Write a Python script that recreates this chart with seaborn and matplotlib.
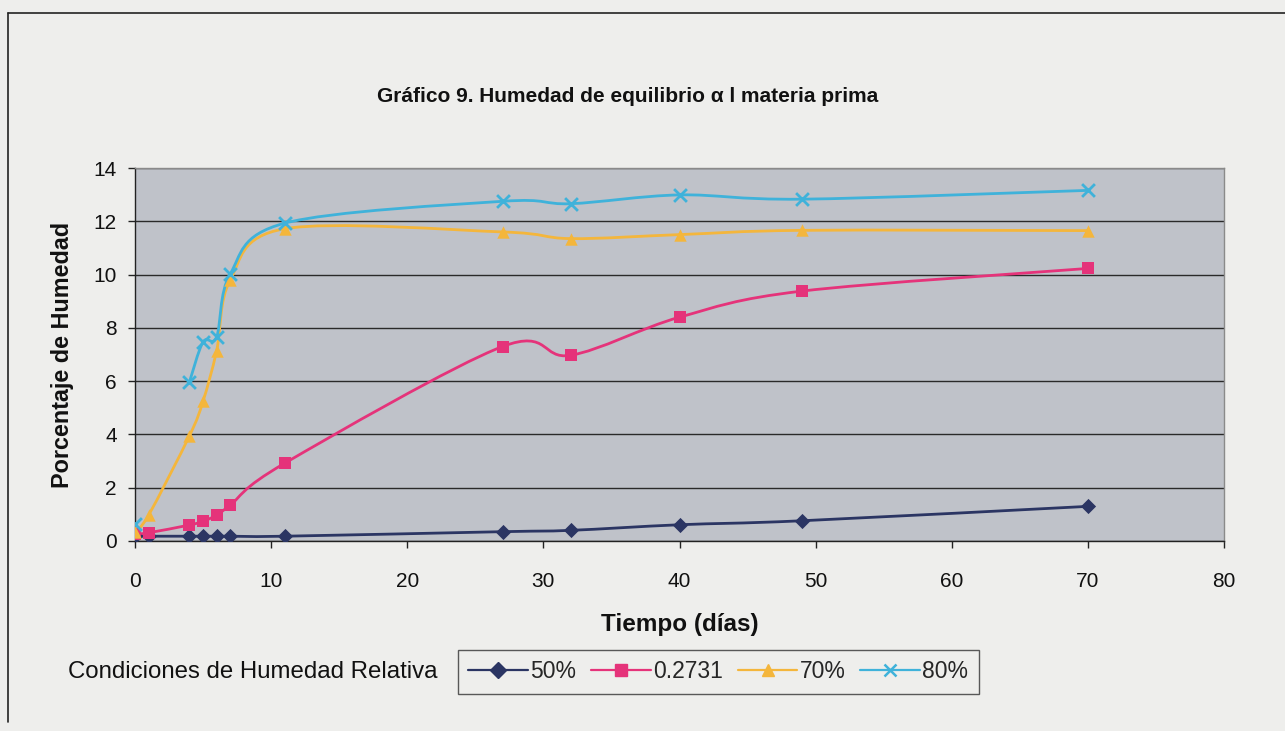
import numpy as np
import pandas as pd
import seaborn as sns
import matplotlib
matplotlib.use("Agg")
import matplotlib.pyplot as plt
from matplotlib.path import Path
from matplotlib.patches import PathPatch
from matplotlib.lines import Line2D

# Equilibrium moisture readings (percent) by day
dias = [0, 1, 4, 5, 6, 7, 11, 27, 32, 40, 49, 70]
hr_50 = [0.18, 0.18, 0.18, 0.18, 0.18, 0.18, 0.18, 0.35, 0.40, 0.61, 0.76, 1.30]
hr_2731 = [0.26, 0.31, 0.60, 0.74, 0.97, 1.35, 2.92, 7.30, 6.97, 8.40, 9.38, 10.23]
hr_70 = [0.35, 0.97, 3.95, 5.25, 7.15, 9.80, 11.72, 11.60, 11.35, 11.50, 11.66, 11.65]
hr_80 = [0.65, np.nan, 5.97, 7.47, 7.67, 10.03, 11.93, 12.75, 12.66, 12.99, 12.83, 13.16]

series_names = ["50%", "0.2731", "70%", "80%"]
series_values = [hr_50, hr_2731, hr_70, hr_80]
colors = ["#2b3563", "#e5337a", "#f4b63c", "#3fb2da"]
markers = ["D", "s", "^", "x"]
marker_sizes = [60, 75, 80, 85]

df = pd.DataFrame({"Tiempo": dias * 4,
                   "Humedad": sum(series_values, []),
                   "Serie": sum([[n] * len(dias) for n in series_names], [])})

sns.set_theme(style="white")
plt.rcParams["font.family"] = ["Liberation Sans", "DejaVu Sans"]

bg = "#eeeeec"
fig = plt.figure(figsize=(12.85, 7.31), dpi=100, facecolor=bg)
ax = fig.add_axes([135 / 1285, 1 - 541 / 731, (1224 - 135) / 1285, (541 - 168) / 731])
ax.set_facecolor("#bfc2c9")


def smooth_path(xs, ys):
    """Bezier path through the points, Excel-style smoothing."""
    pts = np.column_stack([xs, ys])
    n = len(pts)
    verts = [pts[0]]
    codes = [Path.MOVETO]
    for i in range(n - 1):
        p_prev = pts[i - 1] if i > 0 else pts[i]
        p_next2 = pts[i + 2] if i + 2 < n else pts[i + 1]
        c1 = pts[i] + (pts[i + 1] - p_prev) / 6.0
        c2 = pts[i + 1] - (p_next2 - pts[i]) / 6.0
        verts += [c1, c2, pts[i + 1]]
        codes += [Path.CURVE4] * 3
    return Path(verts, codes)


for name, vals, col in zip(series_names, series_values, colors):
    x = np.array(dias, dtype=float)
    y = np.array(vals, dtype=float)
    # split into runs without missing readings
    runs, cur = [], []
    for xi, yi in zip(x, y):
        if not np.isnan(yi):
            cur.append((xi, yi))
        else:
            if cur:
                runs.append(cur)
            cur = []
    if cur:
        runs.append(cur)
    for r in runs:
        if len(r) > 1:
            rx, ry = zip(*r)
            ax.add_patch(PathPatch(smooth_path(rx, ry), fill=False,
                                   edgecolor=col, lw=2.0, zorder=3))

for name, col, mk, ms in zip(series_names, colors, markers, marker_sizes):
    sub = df[df["Serie"] == name].dropna()
    kw = dict(linewidth=2.0) if mk == "x" else dict(linewidth=0)
    sns.scatterplot(data=sub, x="Tiempo", y="Humedad", ax=ax, color=col,
                    marker=mk, s=ms, zorder=4, legend=False, **kw)

ax.set_xlim(0, 80)
ax.set_ylim(0, 14)
ax.set_xticks(range(0, 81, 10))
ax.set_yticks(range(0, 15, 2))
ax.yaxis.grid(True, color="#2a2a2a", lw=1.0)
ax.xaxis.grid(False)
ax.set_axisbelow(True)
for side in ["top", "right"]:
    ax.spines[side].set_color("#8a8a8a")
    ax.spines[side].set_linewidth(1.0)
for side in ["left", "bottom"]:
    ax.spines[side].set_color("#222222")
    ax.spines[side].set_linewidth(1.0)
ax.tick_params(axis="both", which="major", direction="out", length=5,
               width=1, color="#222222", labelsize=15, labelcolor="#111111",
               bottom=True, left=True)
ax.tick_params(axis="x", pad=17)
ax.tick_params(axis="y", pad=8)

ax.set_xlabel("Tiempo (días)", fontsize=17.5, fontweight="bold", labelpad=16,
              color="#111111")
ax.set_ylabel("Porcentaje de Humedad", fontsize=16.8, fontweight="bold",
              labelpad=14, color="#111111")

fig.text(628 / 1285, 1 - 97 / 731,
         "Gráfico 9. Humedad de equilibrio α l materia prima",
         ha="center", va="center", fontsize=15, fontweight="bold",
         color="#111111")

# legend below the chart
fig.text(68 / 1285, 1 - 672 / 731, "Condiciones de Humedad Relativa",
         ha="left", va="center", fontsize=17.3, color="#111111")
handles = []
for name, col, mk in zip(series_names, colors, markers):
    handles.append(Line2D([0], [0], color=col, lw=1.6, marker=mk,
                          markersize=8, markeredgewidth=1.8 if mk == "x" else 1,
                          markeredgecolor=col, markerfacecolor=col))
leg = fig.legend(handles, series_names, loc="center left",
                 bbox_to_anchor=(458 / 1285, 1 - 672 / 731), ncol=4,
                 frameon=True, fancybox=False, edgecolor="#333333",
                 facecolor=bg, fontsize=16.5, handlelength=2.6,
                 handletextpad=0.1, columnspacing=0.65, borderpad=0.45,
                 borderaxespad=0)
leg.get_frame().set_linewidth(1.0)

# outer chart border (top and left edges)
fig.add_artist(Line2D([8 / 1285, 1.0], [1 - 13 / 731, 1 - 13 / 731],
                      color="#222222", lw=1.2, transform=fig.transFigure))
fig.add_artist(Line2D([8 / 1285, 8 / 1285], [1 - 13 / 731, 1 - 722 / 731],
                      color="#222222", lw=1.2, transform=fig.transFigure))

fig.savefig("out.png", dpi=100, facecolor=bg)
